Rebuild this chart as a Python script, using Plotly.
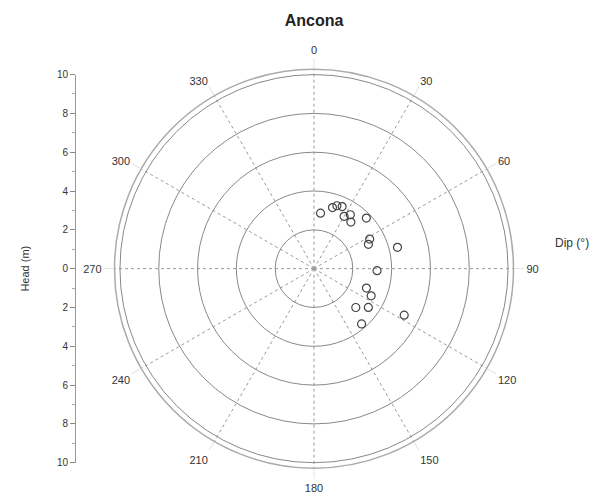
import plotly.graph_objects as go

# Data (dip direction in degrees, head in m)
dip_deg = [6.7, 16.8, 24.4, 29.9, 38.4, 46.0, 65.9, 62.0, 75.7, 91.8, 110.3, 115.4, 132.9, 125.5, 139.3, 117.3, 20.0, 34.0]
head_m = [2.88, 3.29, 3.51, 3.11, 3.06, 3.75, 3.07, 3.25, 4.44, 3.25, 2.88, 3.26, 2.94, 3.44, 3.76, 5.23, 3.45, 3.35]

angle_ticks = [0, 30, 60, 90, 120, 150, 180, 210, 240, 270, 300, 330]
ring_vals = [2, 4, 6, 8, 10]
r_max = 10.28
left_ticks = [-10, -8, -6, -4, -2, 0, 2, 4, 6, 8, 10]
left_labels = [str(abs(v)) for v in left_ticks]

W, H = 590, 503
cx, cy, R10 = 314, 269, 198
R = R10 * r_max / 10

fig = go.Figure()
fig.add_trace(go.Scatterpolar(
    r=head_m, theta=dip_deg, mode="markers",
    marker=dict(symbol="circle-open", size=8, color="#444", line=dict(width=1.2)),
    showlegend=False,
))
# invisible cartesian trace to show the left linear axis
fig.add_trace(go.Scatter(x=[0], y=[0], mode="markers", marker=dict(opacity=0),
                         showlegend=False, hoverinfo="skip", xaxis="x", yaxis="y"))

dx0, dx1 = (cx - R) / W, (cx + R) / W
dy0, dy1 = 1 - (cy + R) / H, 1 - (cy - R) / H
ly0, ly1 = 1 - (cy + R10) / H, 1 - (cy - R10) / H

fig.update_layout(
    width=W, height=H,
    margin=dict(l=0, r=0, t=0, b=0),
    paper_bgcolor="white", plot_bgcolor="rgba(0,0,0,0)",
    font=dict(family="Liberation Sans, Arial, sans-serif", color="#333", size=11),
    title=dict(text="<b>Ancona</b>", x=cx / W, xanchor="center", y=1 - 20 / H, yanchor="middle",
               font=dict(size=16, color="#222")),
    polar=dict(
        domain=dict(x=[dx0, dx1], y=[dy0, dy1]),
        bgcolor="white",
        angularaxis=dict(
            rotation=90, direction="clockwise",
            tickmode="array", tickvals=angle_ticks, ticktext=[str(v) for v in angle_ticks],
            showgrid=True, gridcolor="#999", griddash="dot", gridwidth=1,
            showline=True, linecolor="#aaa", linewidth=1.5,
            ticks="outside", ticklen=10, tickcolor="#e4e4e4",
            tickfont=dict(size=11, color="#333"),
        ),
        radialaxis=dict(
            range=[0, r_max], tickmode="array", tickvals=ring_vals,
            showticklabels=False, ticks="",
            showgrid=True, gridcolor="#888", gridwidth=1,
            showline=False,
        ),
    ),
    xaxis=dict(domain=[0, 0.01], visible=False, range=[-1, 1]),
    yaxis=dict(
        domain=[ly0, ly1], range=[-10, 10], anchor="free", position=75 / W,
        tickmode="array", tickvals=left_ticks, ticktext=left_labels,
        ticks="outside", ticklen=5, tickcolor="#888",
        minor=dict(ticks="outside", ticklen=3, dtick=1, tickcolor="#aaa"),
        showline=True, linecolor="#999", linewidth=1,
        showgrid=False, zeroline=False,
        tickfont=dict(size=10, color="#333"),
        title=dict(text="Head (m)", font=dict(size=11, color="#333"), standoff=24),
    ),
    annotations=[
        dict(text="Dip (°)", x=553 / W, y=1 - 243 / H, xref="paper", yref="paper",
             xanchor="left", yanchor="middle", showarrow=False, font=dict(size=12, color="#333")),
    ],
)

fig.write_html("out.html")
